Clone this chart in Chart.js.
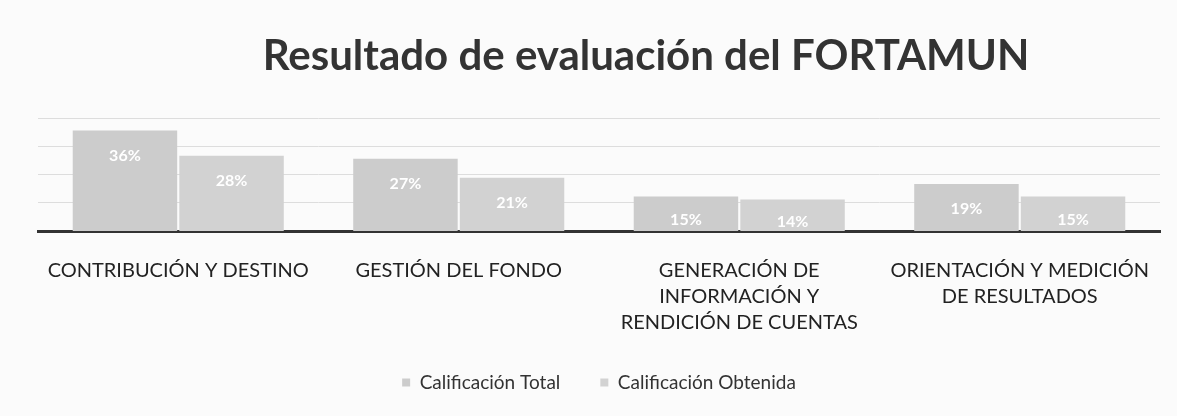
<!DOCTYPE html>
<html>
<head>
<meta charset="utf-8">
<script src="https://cdn.jsdelivr.net/npm/chart.js@4"></script>
<style>
  html, body { margin: 0; padding: 0; background: #fbfbfb; }
  #wrap { position: relative; width: 1177px; height: 416px; }
  #title {
    position: absolute; left: 646px; top: 29px; transform: translateX(-50%);
    margin: 0; white-space: nowrap;
    font: bold 42px Lato; color: #333333; line-height: 50px;
  }
</style>
</head>
<body>
<div id="wrap">
  <h1 id="title">Resultado de evaluación del FORTAMUN</h1>
  <canvas id="fortamun-chart" width="1177" height="416"></canvas>
</div>
<script>
// values
const categories = [
    'CONTRIBUCIÓN Y DESTINO',
    'GESTIÓN DEL FONDO',
    ['GENERACIÓN DE', 'INFORMACIÓN Y', 'RENDICIÓN DE CUENTAS'],
    ['ORIENTACIÓN Y MEDICIÓN', 'DE RESULTADOS']
];
const calificacionTotal = [36, 27, 15, 19];
const calificacionObtenida = [28, 21, 14, 15];
const seriesNames = ['Calificación Total', 'Calificación Obtenida'];

// white % labels inside the bars
const barLabels = {
    id: 'barLabels',
    afterDatasetsDraw(chart) {
        const ctx = chart.ctx;
        ctx.save();
        ctx.fillStyle = '#ffffff';
        ctx.font = 'bold 16px Lato';
        ctx.textAlign = 'center';
        ctx.textBaseline = 'middle';
        chart.data.datasets.forEach((ds, i) => {
            chart.getDatasetMeta(i).data.forEach((bar, j) => {
                // near the top of tall bars, centred in short ones
                const y = Math.min(bar.y + 25, (bar.y + bar.base) / 2);
                ctx.fillText(ds.data[j] + '%', bar.x, y);
            });
        });
        ctx.restore();
    }
};

const ctx = document.getElementById('fortamun-chart').getContext('2d');
new Chart(ctx, {
    type: 'bar',
    data: {
        labels: categories,
        datasets: [{
            label: seriesNames[0],
            data: calificacionTotal,
            backgroundColor: '#cccccc',
            barPercentage: 0.98,
            categoryPercentage: 0.76
        }, {
            label: seriesNames[1],
            data: calificacionObtenida,
            backgroundColor: '#d2d2d2',
            barPercentage: 0.98,
            categoryPercentage: 0.76
        }]
    },
    options: {
        responsive: false,
        animation: false,
        layout: {
            padding: { left: 38, right: 17, top: 118, bottom: 14 }
        },
        plugins: {
            title: { display: false },
            legend: {
                position: 'bottom',
                labels: {
                    color: '#333333',
                    font: { family: 'Lato', size: 19 },
                    boxWidth: 8,
                    boxHeight: 8,
                    padding: 40
                }
            },
            tooltip: { enabled: false }
        },
        scales: {
            x: {
                grid: { display: false },
                border: { display: true, color: '#333333', width: 3 },
                ticks: {
                    color: '#222222',
                    font: { family: 'Lato', size: 20, lineHeight: 1.3 },
                    maxRotation: 0,
                    autoSkip: false,
                    padding: 19
                },
                afterFit(scale) {
                    scale.height = 102;
                }
            },
            y: {
                min: 4,
                max: 40,
                ticks: { display: false, stepSize: 9 },
                grid: { color: '#dddddd', drawTicks: false },
                border: { display: false }
            }
        }
    },
    plugins: [barLabels]
});
</script>
</body>
</html>
